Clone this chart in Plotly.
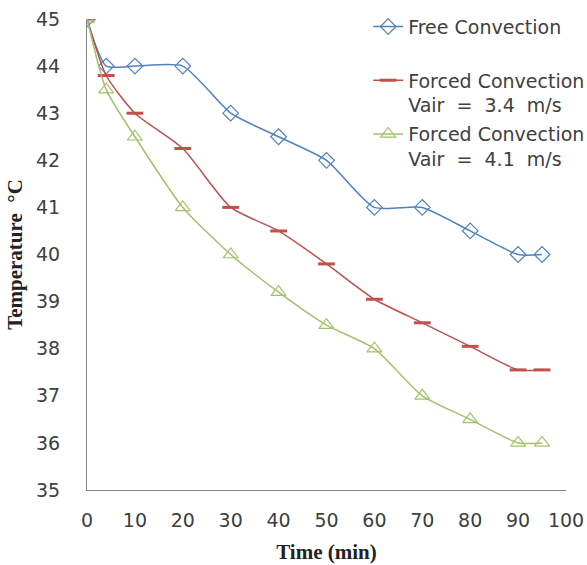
import plotly.graph_objects as go

time_free = [0, 4, 10, 20, 30, 40, 50, 60, 70, 80, 90, 95]
temp_free = [45, 44, 44, 44, 43, 42.5, 42, 41, 41, 40.5, 40, 40]
time_f34 = [0, 4, 10, 20, 30, 40, 50, 60, 70, 80, 90, 95]
temp_f34 = [45, 43.8, 43, 42.25, 41, 40.5, 39.8, 39.05, 38.55, 38.05, 37.55, 37.55]
time_f41 = [0, 4, 10, 20, 30, 40, 50, 60, 70, 80, 90, 95]
temp_f41 = [45, 43.5, 42.5, 41, 40, 39.2, 38.5, 38, 37, 36.5, 36, 36]

names = ["Free Convection",
         "Forced Convection<br>Vair  =  3.4  m/s",
         "Forced Convection<br>Vair  =  4.1  m/s"]
x_ticks = list(range(0, 101, 10))
y_ticks = list(range(35, 46))

BLUE = "#4f81bd"
RED = "#c0504d"
GREEN = "#a5c06a"

fig = go.Figure()
fig.add_trace(go.Scatter(
    x=time_free, y=temp_free, name=names[0], mode="lines+markers",
    line=dict(color=BLUE, width=1.5, shape="spline", smoothing=0.6),
    marker=dict(symbol="diamond-open", size=12, color=BLUE, line=dict(width=1.2)),
    legend="legend"))
fig.add_trace(go.Scatter(
    x=time_f34, y=temp_f34, name=names[1], mode="lines+markers",
    line=dict(color=RED, width=1.5, shape="spline", smoothing=0.6),
    marker=dict(symbol="line-ew", size=12, color=RED, line=dict(width=3, color=RED)),
    legend="legend2"))
fig.add_trace(go.Scatter(
    x=time_f41, y=temp_f41, name=names[2], mode="lines+markers",
    line=dict(color=GREEN, width=1.5, shape="spline", smoothing=0.6),
    marker=dict(symbol="triangle-up-open", size=13, color=GREEN, line=dict(width=1.2)),
    legend="legend3"))

leg_common = dict(xanchor="left", yanchor="top", x=0.587, bgcolor="rgba(0,0,0,0)",
                  font=dict(family="DejaVu Sans", size=19, color="#404040"),
                  valign="top", itemwidth=30, tracegroupgap=0)

tick_font = dict(family="DejaVu Sans", size=19, color="#404040")
title_font = dict(family="Liberation Serif", size=21, color="#222")

fig.update_layout(
    width=587, height=565,
    margin=dict(l=87, r=21, t=19, b=75, autoexpand=False),
    paper_bgcolor="white", plot_bgcolor="white",
    showlegend=True,
    legend=dict(**leg_common, y=1.024),
    legend2=dict(**leg_common, y=0.91),
    legend3=dict(**leg_common, y=0.796),
    xaxis=dict(range=[0, 100], tickvals=x_ticks, showgrid=False, zeroline=False,
               showline=True, linecolor="#868686", linewidth=1.2, ticks="",
               tickfont=tick_font, ticklabelstandoff=13, automargin=False,
               title=dict(text="<b>Time (min)</b>", standoff=14, font=title_font)),
    yaxis=dict(range=[35, 45], tickvals=y_ticks, showgrid=False, zeroline=False,
               showline=True, linecolor="#868686", linewidth=1.2, ticks="",
               tickfont=tick_font, ticklabelstandoff=22, automargin=False,
               title=dict(text="<b>Temperature  °C</b>", standoff=7, font=title_font)),
)
fig.write_html("out.html")
